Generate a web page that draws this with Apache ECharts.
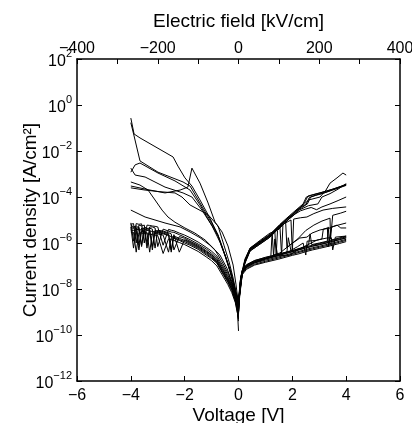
<!DOCTYPE html>
<html><head><meta charset="utf-8">
<script src="https://cdn.jsdelivr.net/npm/echarts@6/dist/echarts.min.js"></script>
<style>html,body{margin:0;padding:0;background:#fff}#c{width:412px;height:423px}</style>
</head><body><div id="c"></div>
<script>
// ---- Tick labels ----
const voltageTicks = [-6, -4, -2, 0, 2, 4, 6];
const fieldTicks = [-400, -200, 0, 200, 400];
const densityTicks = [1e-12, 1e-10, 1e-8, 1e-6, 1e-4, 1e-2, 1e0, 1e2];
const densityExps = [-12, -10, -8, -6, -4, -2, 0, 2];

// ---- Negative-bias curves (upper, distinct) : [V, J A/cm2] ----
const negUp1 = [[-4.0,2.7e-1],[-3.88,5.5e-2],[-3.66,3.7e-2],[-2.43,5.5e-3],[-2.25,2.2e-3],[-1.99,6.8e-4],[-1.73,3e-4],[-1.43,7.4e-5],[-1.06,1.2e-5],[-0.76,2.2e-6],[-0.5,3e-7],[-0.32,6.8e-8],[-0.17,1.5e-8],[-0.06,3.3e-9],[0,1e-9]];
const negUp2 = [[-4.0,1.7e-1],[-3.88,4.5e-2],[-3.66,3.7e-3],[-2.99,1.2e-3],[-2.06,4.5e-4],[-1.8,3e-4],[-1.43,5.5e-5],[-1.06,1e-5],[-0.76,2.2e-6],[-0.5,3e-7],[-0.28,5.5e-8],[-0.13,1.1e-8],[0,2e-9]];
const negUp3 = [[-4.0,1.8e-3],[-3.84,9e-4],[-3.47,7.4e-4],[-2.73,2.7e-4],[-2.06,1.5e-4],[-1.73,1e-4],[-1.36,2.7e-5],[-0.98,5.5e-6],[-0.69,1.1e-6],[-0.46,2.2e-7],[-0.28,4e-8],[-0.13,9e-9],[0,3.3e-9]];
const negUp4 = [[-4.0,4.5e-4],[-3.66,3.3e-4],[-3.36,2e-4],[-3.1,7.4e-5],[-2.84,2.7e-5],[-2.62,1.35e-5],[-2.36,8e-6],[-1.99,4.5e-6],[-1.62,2.7e-6],[-1.24,1.35e-6],[-0.87,5e-7],[-0.61,1.5e-7],[-0.35,4e-8],[-0.17,9e-9],[0,1.2e-9]];
const negUp5 = [[-4.0,3e-4],[-3.29,2e-4],[-2.73,1.5e-4],[-2.17,2e-4],[-1.88,2.7e-4],[-1.73,1.8e-3],[-1.43,4e-4],[-1.13,5.5e-5],[-0.87,8e-6],[-0.61,3e-6],[-0.39,7.4e-7],[-0.2,1.1e-7],[-0.09,1.5e-8],[0,2e-9]];
const negUp6 = [[-4.0,2.5e-4],[-3.47,2e-4],[-2.92,1.7e-4],[-2.36,1.5e-4],[-2.1,1e-4],[-1.8,4.5e-5],[-1.13,1.7e-5],[-0.76,5.5e-6],[-0.54,8e-7],[-0.35,1.5e-7],[-0.2,3e-8],[-0.09,7.4e-9],[0,2.5e-9]];
const negUp7 = [[-4.0,2.7e-5],[-3.47,1.35e-5],[-2.73,7.4e-6],[-2.17,5e-6],[-1.8,3e-6],[-1.43,1.7e-6],[-1.06,8e-7],[-0.69,3e-7],[-0.43,8e-8],[-0.24,2e-8],[-0.09,4.5e-9],[0,1.2e-9]];
const negUp8 = [[-4.0,1.2e-3],[-3.84,2.5e-3],[-3.66,3e-3],[-2.99,1.1e-3],[-2.36,5e-4],[-1.8,2e-4],[-1.43,4.5e-5],[-1.06,8e-6],[-0.76,2e-6],[-0.5,2.7e-7],[-0.28,4.5e-8],[-0.13,9e-9],[0,1.5e-9]];

// ---- Negative-bias lower (noisy) bundle ----
const vNegLow = [-4,-3.9,-3.8,-3.7,-3.6,-3.5,-3.4,-3.3,-3.2,-3.1,-3.0,-2.8,-2.6,-2.5,-2.4,-2.2,-2.0,-1.8,-1.5,-1.2,-1.0,-0.8,-0.6,-0.4,-0.25,-0.12,-0.05,0];
const jNegLow1 = [5e-6,6e-7,4e-6,5e-6,8e-7,4e-6,3.5e-6,3.6e-6,5e-7,3.2e-6,3e-6,2.7e-6,2.3e-6,4e-7,2e-6,1.6e-6,1.3e-6,1e-6,6.6e-7,3.8e-7,2.6e-7,1.5e-7,6e-8,2.4e-8,1e-8,3.5e-9,1.5e-9,5e-10];
const jNegLow2 = [6.5e-6,7e-6,1e-6,6e-6,5.5e-6,6e-6,9e-7,5e-6,5e-6,4.5e-6,7e-7,4e-6,3.3e-6,3e-6,2.9e-6,2.3e-6,1.8e-6,1.4e-6,9e-7,5.5e-7,3.6e-7,2.2e-7,9e-8,3.5e-8,1.5e-8,5.5e-9,2.2e-9,8e-10];
const jNegLow3 = [3.6e-6,3.5e-6,3.4e-6,5e-7,3.3e-6,3e-6,2.9e-6,4e-7,2.8e-6,2.6e-6,2.5e-6,2.2e-6,4e-7,1.7e-6,1.6e-6,1.3e-6,1e-6,8e-7,5.3e-7,3e-7,2.1e-7,1.3e-7,5e-8,2e-8,8.5e-9,3e-9,1.2e-9,4e-10];
const jNegLow4 = [6e-6,5e-6,5.5e-6,4.5e-6,7e-7,5e-6,4.3e-6,4.4e-6,4e-6,6e-7,3.6e-6,3.3e-6,2.8e-6,2.5e-6,5e-7,1.9e-6,1.6e-6,1.2e-6,8e-7,4.6e-7,3.1e-7,1.9e-7,7.5e-8,3e-8,1.3e-8,4.8e-9,1.9e-9,1.5e-10];
const jNegLow5 = [3e-6,2.9e-6,4e-7,2.8e-6,2.7e-6,2.6e-6,2.5e-6,2.4e-6,2.3e-6,2.2e-6,2.1e-6,3.5e-7,1.5e-6,1.4e-6,1.3e-6,1.05e-6,8.5e-7,6.5e-7,4.3e-7,2.5e-7,1.7e-7,1e-7,4e-8,1.6e-8,7e-9,2.6e-9,1e-9,6e-10];
const jNegLow6 = [7.5e-6,1.2e-6,7e-6,6.5e-6,6.8e-6,1e-6,6e-6,5.8e-6,5.5e-6,5.3e-6,5e-6,8e-7,3.9e-6,3.6e-6,3.4e-6,2.7e-6,2.2e-6,1.7e-6,1.1e-6,6.5e-7,4.4e-7,2.7e-7,1.1e-7,4.2e-8,1.8e-8,6.5e-9,2.6e-9,1e-9];
const jNegLow7 = [5e-6,4.8e-6,4.9e-6,8e-7,4.5e-6,4.2e-6,4e-6,3.9e-6,7e-7,3.6e-6,3.3e-6,3e-6,2.6e-6,5e-7,2.3e-6,4e-7,1.4e-6,1.1e-6,7.2e-7,4.2e-7,2.9e-7,1.7e-7,7e-8,2.7e-8,1.2e-8,4.4e-9,1.7e-9,7e-10];
const jNegLow8 = [4e-6,4.2e-6,3.9e-6,3.8e-6,3.7e-6,3.6e-6,6e-7,3.3e-6,3.2e-6,3e-6,2.8e-6,2.5e-6,2.1e-6,1.9e-6,1.8e-6,1.4e-6,1.15e-6,9e-7,6e-7,3.4e-7,2.3e-7,1.4e-7,5.5e-8,2.2e-8,1e-8,3.6e-9,1.4e-9,5e-10];

// ---- Positive-bias upper bundle ----
const posUp1 = [[0,2e-9],[0.06,9e-9],[0.13,4e-8],[0.24,1.5e-7],[0.43,5e-7],[0.8,1e-6],[1.17,2e-6],[1.54,5.5e-6],[1.91,1.35e-5],[2.28,3.3e-5],[2.4,5e-5],[2.52,1e-4],[2.73,1.2e-4],[3.03,1.5e-4],[3.4,2e-4],[4.0,3.3e-4]];
const posUp2 = [[0,3e-9],[0.06,1.2e-8],[0.13,5e-8],[0.24,1.8e-7],[0.43,6e-7],[0.8,1.2e-6],[1.17,2.4e-6],[1.54,6.5e-6],[1.91,1.6e-5],[2.28,3.8e-5],[2.45,5.5e-5],[2.58,1.1e-4],[2.8,1.3e-4],[3.1,1.6e-4],[3.5,2.2e-4],[4.0,3.5e-4]];
const posUp3 = [[0,1.5e-9],[0.06,7e-9],[0.13,3.5e-8],[0.24,1.3e-7],[0.43,4.5e-7],[0.8,9e-7],[1.17,1.8e-6],[1.54,4.8e-6],[1.91,1.2e-5],[2.28,3e-5],[2.5,4.5e-5],[2.63,9.5e-5],[2.85,1.15e-4],[3.15,1.45e-4],[3.5,2e-4],[4.0,3.2e-4]];
const posUp4 = [[0,2.5e-9],[0.06,1e-8],[0.13,4.5e-8],[0.24,1.6e-7],[0.43,5.5e-7],[0.8,1.1e-6],[1.17,2.2e-6],[1.54,6e-6],[1.91,1.45e-5],[2.28,3.5e-5],[2.56,5e-5],[2.68,1e-4],[2.9,1.25e-4],[3.2,1.55e-4],[3.6,2.3e-4],[4.0,3.6e-4]];
const posUp5 = [[0,2e-9],[0.06,8e-9],[0.13,3.5e-8],[0.24,1.4e-7],[0.43,4.5e-7],[0.8,9e-7],[1.17,1.8e-6],[1.54,5e-6],[1.91,1.2e-5],[2.28,2.8e-5],[2.6,4.2e-5],[2.95,5e-5],[3.1,1e-4],[3.4,1.4e-4],[3.7,2.2e-4],[4.0,3.8e-4]];
const posTop = [[0,2e-9],[0.06,1e-8],[0.13,4.5e-8],[0.24,1.7e-7],[0.43,5.5e-7],[0.8,1.1e-6],[1.17,2.2e-6],[1.54,6e-6],[1.91,1.4e-5],[2.28,3.3e-5],[2.45,5e-5],[2.6,7.4e-5],[3.03,1e-4],[3.25,2e-4],[3.4,4e-4],[3.66,6.8e-4],[3.88,1.1e-3],[4.0,9e-4]];

// ---- Positive-bias intermediate / noisy curves ----
const posMid1 = [[0,2e-9],[0.06,9e-9],[0.13,4e-8],[0.24,1.5e-7],[0.43,5e-7],[0.8,1e-6],[1.17,2e-6],[1.54,5e-6],[1.6,3e-7],[1.65,6e-6],[1.91,1.2e-5],[2.1,1.8e-5],[2.3,2.5e-5],[2.5,3e-5],[2.7,3.5e-5],[2.9,2.8e-5],[3.1,3.7e-5],[3.4,5e-5],[3.7,7e-5],[4.0,1e-4]];
const posMid2 = [[0,3e-9],[0.06,1.3e-8],[0.13,5.5e-8],[0.24,2e-7],[0.43,6e-7],[0.8,1.3e-6],[1.17,2.7e-6],[1.35,3.2e-6],[1.4,3e-7],[1.45,3.5e-6],[1.7,7e-6],[1.95,1e-5],[2.0,4e-7],[2.05,1.1e-5],[2.3,1.25e-5],[2.54,1.35e-5],[2.8,1.9e-5],[3.14,2.7e-5],[3.5,3.2e-5],[4.0,3.7e-5]];
const posMid3 = [[0,1e-9],[0.03,5e-9],[0.08,2.5e-8],[0.15,6e-8],[0.3,1e-7],[0.6,1.5e-7],[1.0,2.1e-7],[1.2,2.4e-7],[1.25,3e-6],[1.3,3e-7],[1.54,3.7e-7],[1.9,8e-7],[2.28,1.65e-6],[2.54,1.8e-6],[2.73,2.7e-6],[3.03,3.7e-6],[3.4,4.5e-6],[3.66,6e-6],[3.8,4.5e-6],[4.0,4.5e-6]];
const posMid4 = [[0,1.5e-9],[0.03,6e-9],[0.08,3e-8],[0.15,7e-8],[0.3,1.1e-7],[0.6,1.7e-7],[1.0,2.4e-7],[1.5,3.3e-7],[1.91,4.5e-7],[2.2,7e-7],[2.4,1e-6],[2.5,3e-7],[2.55,1.2e-6],[2.9,1.3e-6],[3.1,1.5e-6],[3.15,4e-6],[3.3,4.5e-6],[3.35,7e-7],[3.45,5e-6],[3.7,6e-6],[4.0,7.4e-6]];
const posMid5 = [[0,1e-9],[0.03,5e-9],[0.08,2.5e-8],[0.15,5.5e-8],[0.3,9e-8],[0.6,1.4e-7],[1.0,2e-7],[1.5,2.8e-7],[1.91,3e-7],[2.2,5e-7],[2.54,8e-7],[2.92,1.35e-6],[3.29,1.65e-6],[3.45,1.7e-6],[3.5,5e-7],[3.6,1.8e-6],[4.0,2e-6]];
const posMid6 = [[0,1e-9],[0.03,5e-9],[0.08,2.5e-8],[0.15,5.5e-8],[0.3,9e-8],[0.6,1.4e-7],[1.0,2e-7],[1.3,2.6e-7],[1.35,1.5e-6],[1.45,3e-7],[1.8,4e-7],[1.85,1.7e-6],[1.95,4.5e-7],[2.3,6e-7],[2.6,8e-7],[2.66,2.5e-6],[2.72,8.5e-7],[3.0,1e-6],[3.3,1.2e-6],[3.33,5e-6],[3.38,1.3e-6],[3.7,1.6e-6],[4.0,2e-6]];
const posMid7 = [[0,2e-9],[0.06,1e-8],[0.13,4.5e-8],[0.24,1.6e-7],[0.43,5.5e-7],[0.8,1.1e-6],[1.17,2.2e-6],[1.54,5.8e-6],[1.75,9e-6],[1.8,6e-7],[1.9,8e-7],[2.2,1.5e-6],[2.5,3.5e-6],[2.8,6e-6],[3.1,9e-6],[3.4,1.2e-5],[3.42,1.5e-6],[3.5,1.6e-5],[3.8,2e-5],[4.0,2.4e-5]];

// ---- Positive-bias lower bundle ----
const vPosLow = [0,0.03,0.08,0.15,0.3,0.6,1.0,1.5,2.0,2.25,2.5,2.75,3.0,3.25,3.5,3.75,4.0];
const jPosLow1 = [1e-9,5.5e-9,2.5e-8,5.5e-8,9e-8,1.35e-7,1.8e-7,2.5e-7,3.6e-7,4.3e-7,5.2e-7,6.2e-7,7.2e-7,8.5e-7,1e-6,1.2e-6,1.45e-6];
const jPosLow2 = [1.5e-9,7e-9,3.2e-8,7e-8,1.15e-7,1.75e-7,2.3e-7,3.2e-7,4.6e-7,5.6e-7,6.8e-7,8e-7,9.4e-7,1.1e-6,1.3e-6,1.55e-6,1.85e-6];
const jPosLow3 = [8e-10,4.5e-9,2e-8,4.4e-8,7.2e-8,1.1e-7,1.45e-7,2e-7,2.9e-7,3.4e-7,4.2e-7,5e-7,5.8e-7,6.8e-7,8e-7,9.5e-7,1.15e-6];
const jPosLow4 = [1.2e-9,6e-9,2.8e-8,6.3e-8,1e-7,1.55e-7,2.1e-7,2.9e-7,4.1e-7,5e-7,6e-7,7.2e-7,8.3e-7,9.8e-7,1.15e-6,1.4e-6,1.65e-6];
const jPosLow5 = [9e-10,5e-9,2.2e-8,5e-8,8e-8,1.2e-7,1.6e-7,2.25e-7,3.2e-7,3.9e-7,4.7e-7,5.6e-7,6.5e-7,7.6e-7,9e-7,1.08e-6,1.3e-6];
const jPosLow6 = [2e-9,8e-9,3e-8,6.6e-8,1.08e-7,1.6e-7,2.15e-7,3e-7,4.3e-7,5.2e-7,6.2e-7,7.4e-7,8.6e-7,1e-6,1.2e-6,1.4e-6,1.7e-6];

// ---- assemble ----
const pairCurves = [negUp1,negUp2,negUp3,negUp4,negUp5,negUp6,negUp7,negUp8,
  posUp1,posUp2,posUp3,posUp4,posUp5,posTop,posMid1,posMid2,posMid3,posMid4,posMid5,posMid6,posMid7];
const negLowSets = [jNegLow1,jNegLow2,jNegLow3,jNegLow4,jNegLow5,jNegLow6,jNegLow7,jNegLow8];
const posLowSets = [jPosLow1,jPosLow2,jPosLow3,jPosLow4,jPosLow5,jPosLow6];

const curves = pairCurves.slice();
negLowSets.forEach(js => curves.push(vNegLow.map((v,i) => [v, js[i]])));
posLowSets.forEach(js => curves.push(vPosLow.map((v,i) => [v, js[i]])));

const FONT = 'Liberation Sans, Arial, Helvetica, sans-serif';
const minus = s => String(s).replace('-', '\u2212');

const series = curves.map(d => ({
  type: 'line', data: d, showSymbol: false, symbol: 'none',
  lineStyle: { color: '#000', width: 1 }, xAxisIndex: 0, yAxisIndex: 0,
  silent: true, animation: false, clip: true
}));

const axisCommon = {
  nameMoveOverlap: false,
  axisLine: { show: true, onZero: false, lineStyle: { color: '#000', width: 1.5 } },
  axisTick: { show: true, inside: true, length: 5, lineStyle: { color: '#000', width: 1 } },
  splitLine: { show: false },
  nameTextStyle: { fontFamily: FONT, fontSize: 19, color: '#000' }
};

// label for a density tick: pick the stored exponent whose tick value is closest
const supLabel = v => {
  let best = 0, bd = Infinity;
  densityTicks.forEach((t, i) => { const d = Math.abs(Math.log(v) - Math.log(t)); if (d < bd) { bd = d; best = i; } });
  return '{a|10}{b|' + minus(densityExps[best]) + '}';
};

const chart = echarts.init(document.getElementById('c'), null, { renderer: 'canvas' });
chart.setOption({
  animation: false,
  backgroundColor: '#fff',
  grid: { left: 77, right: 12, top: 59, bottom: 42, containLabel: false, outerBoundsMode: 'none' },
  graphic: [{
    type: 'text', x: 31, y: 220, rotation: Math.PI / 2, silent: true,
    style: { text: 'Current density [A/cm\u00B2]', font: '19px ' + FONT, fill: '#000',
      align: 'center', verticalAlign: 'middle' }
  }],
  xAxis: [
    Object.assign({}, axisCommon, {
      type: 'value', position: 'bottom', min: voltageTicks[0], max: voltageTicks[voltageTicks.length-1], interval: 2,
      name: 'Voltage [V]', nameLocation: 'middle', nameGap: 25,
      axisLabel: { fontFamily: FONT, fontSize: 16, color: '#000', margin: 7, hideOverlap: false, formatter: v => minus(v) }
    }),
    Object.assign({}, axisCommon, {
      type: 'value', position: 'top', min: fieldTicks[0], max: fieldTicks[fieldTicks.length-1], interval: 100,
      name: 'Electric field [kV/cm]', nameLocation: 'middle', nameGap: 28,
      axisLabel: { fontFamily: FONT, fontSize: 16, color: '#000', margin: 2, hideOverlap: false,
        formatter: v => (fieldTicks.indexOf(v) >= 0 ? minus(v) : '') }
    })
  ],
  yAxis: [
    Object.assign({}, axisCommon, {
      type: 'log', logBase: 10, position: 'left', min: densityTicks[0], max: densityTicks[densityTicks.length-1], splitNumber: 7,
      axisTick: Object.assign({}, axisCommon.axisTick, { customValues: densityTicks }),
      axisLabel: { margin: 5, hideOverlap: false, customValues: densityTicks, formatter: supLabel,
        align: 'right', verticalAlign: 'middle',
        rich: {
          a: { fontFamily: FONT, fontSize: 16, color: '#000', lineHeight: 22, verticalAlign: 'bottom' },
          b: { fontFamily: FONT, fontSize: 11, color: '#000', verticalAlign: 'top' }
        } }
    }),
    Object.assign({}, axisCommon, {
      type: 'log', logBase: 10, position: 'right', min: densityTicks[0], max: densityTicks[densityTicks.length-1], splitNumber: 7,
      axisTick: Object.assign({}, axisCommon.axisTick, { customValues: densityTicks }),
      axisLabel: { show: false }
    })
  ],
  series: series
});
</script>
</body></html>
